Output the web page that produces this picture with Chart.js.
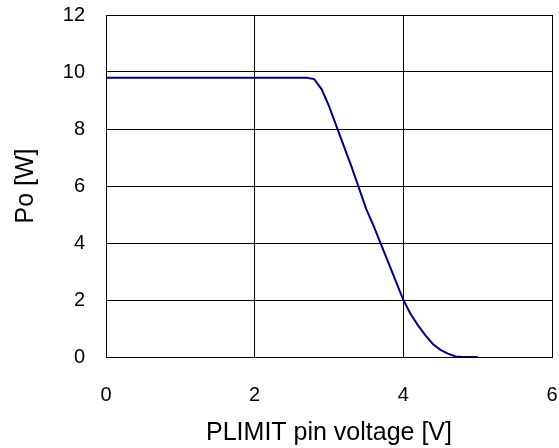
<!DOCTYPE html>
<html><head><meta charset="utf-8">
<script src="https://cdn.jsdelivr.net/npm/chart.js@4"></script>
<style>html,body{margin:0;padding:0;background:#fff}#wrap{width:559px;height:448px}</style>
</head><body><div id="wrap"><canvas id="c" width="559" height="448"></canvas></div>
<script>
const voltage = [0, 0.5, 1.0, 1.5, 2.0, 2.5, 2.7, 2.8, 2.9, 3.0, 3.1, 3.2, 3.3, 3.4, 3.5, 3.6, 3.7, 3.8, 3.9, 4.0, 4.1, 4.2, 4.3, 4.4, 4.5, 4.6, 4.7, 4.8, 5.0];
const power   = [9.8, 9.8, 9.8, 9.8, 9.8, 9.8, 9.8, 9.75, 9.4, 8.8, 8.1, 7.4, 6.7, 5.95, 5.2, 4.6, 3.95, 3.3, 2.65, 2.0, 1.5, 1.1, 0.75, 0.45, 0.25, 0.12, 0.02, 0, 0];
const xTicks = [0, 2, 4, 6];
const yTicks = [0, 2, 4, 6, 8, 10, 12];
const xTitle = 'PLIMIT pin voltage [V]';
const yTitle = 'Po [W]';

const borderPlugin = {
  id: 'frame',
  afterDraw(chart) {
    const {ctx, chartArea: a} = chart;
    ctx.save();
    ctx.strokeStyle = '#000';
    ctx.lineWidth = 1;
    ctx.strokeRect(Math.round(a.left) + 0.5, Math.round(a.top) + 0.5, Math.round(a.right - a.left), Math.round(a.bottom - a.top));
    ctx.restore();
  }
};

Chart.defaults.font.family = "'Liberation Sans', Arial, sans-serif";
Chart.defaults.color = '#000';

new Chart(document.getElementById('c'), {
  type: 'scatter',
  data: {datasets: [{
    data: voltage.map((v, i) => ({x: v, y: power[i]})),
    showLine: true, borderColor: '#000080', borderWidth: 2, pointRadius: 0, tension: 0
  }]},
  options: {
    responsive: false, animation: false,
    layout: {padding: {top: 15, right: 7, left: 0, bottom: 0}},
    plugins: {legend: {display: false}, tooltip: {enabled: false}},
    scales: {
      x: {
        type: 'linear', min: 0, max: 6,
        afterBuildTicks: s => { s.ticks = xTicks.map(v => ({value: v})); },
        afterFit: s => { s.height = 91; s.paddingLeft = 0; s.paddingRight = 0; },
        ticks: {color: '#000', font: {size: 20}, padding: 26, maxRotation: 0},
        grid: {color: '#000', lineWidth: 1, drawTicks: false},
        border: {display: false},
        title: {display: true, text: xTitle, color: '#000', font: {size: 25}, padding: {top: 9, bottom: 0}}
      },
      y: {
        min: 0, max: 12,
        afterBuildTicks: s => { s.ticks = yTicks.map(v => ({value: v})); },
        afterFit: s => { s.width = 106; s.paddingTop = 0; s.paddingBottom = 0; },
        ticks: {color: '#000', font: {size: 20}, padding: 21},
        grid: {color: '#000', lineWidth: 1, drawTicks: false},
        border: {display: false},
        title: {display: true, text: yTitle, color: '#000', font: {size: 25}, padding: {top: 11, bottom: 9}}
      }
    }
  },
  plugins: [borderPlugin]
});
</script></body></html>
